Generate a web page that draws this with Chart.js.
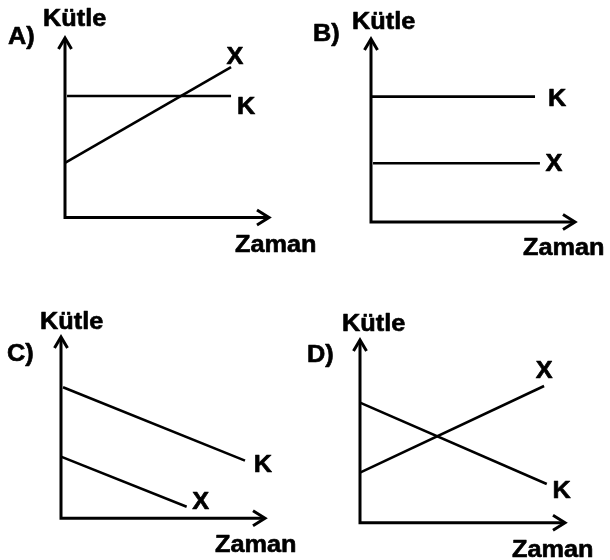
<!DOCTYPE html>
<html>
<head>
<meta charset="utf-8">
<script src="https://cdn.jsdelivr.net/npm/chart.js@4/dist/chart.umd.min.js"></script>
<style>
  html, body { margin: 0; padding: 0; background: #ffffff; }
  #wrap { position: relative; width: 610px; height: 560px; overflow: hidden; }
  #wrap canvas { position: absolute; left: 0; top: 0; }
</style>
</head>
<body>
<div id="wrap">
  <canvas id="cA" width="610" height="560"></canvas>
  <canvas id="cB" width="610" height="560"></canvas>
  <canvas id="cC" width="610" height="560"></canvas>
  <canvas id="cD" width="610" height="560"></canvas>
</div>
<script>
// ---------- DATA ----------
const panelLetters = ['A)', 'B)', 'C)', 'D)'];
const seriesNames = ['K', 'X'];
const yAxisTitle = 'Kütle';
const xAxisTitle = 'Zaman';

// Panel A
const timeKA = [0.1, 8.14];  const massKA = [6.77, 6.77];
const timeXA = [0, 8.14];    const massXA = [3.04, 8.38];
// Panel B
const timeKB = [0, 8.04];    const massKB = [6.85, 6.85];
const timeXB = [0.1, 8.28];  const massXB = [3.21, 3.21];
// Panel C
const timeKC = [0.1, 9.02];  const massKC = [7.23, 3.18];
const timeXC = [0, 6.16];    const massXC = [3.40, 0.64];
// Panel D
const timeKD = [0, 9.11];    const massKD = [6.57, 2.12];
const timeXD = [0, 8.98];    const massXD = [2.74, 7.48];

// ---------- LAYOUT / STYLE ----------
const FONT_SIZE = 23;
const FONT = 'bold ' + FONT_SIZE + 'px "Liberation Sans", Arial, sans-serif';
const HSCALE = 1.1;

const panelLayout = [
  { id: 'cA', pad: { left: 65, right: 341, top: 38, bottom: 342.5 },
    letter: [8, 35.5], ytitle: [43, 17.5], xtitle: [235, 243.5],
    labelOff: { K: [15, 10], X: [4, -11] } },
  { id: 'cB', pad: { left: 371, right: 35, top: 39, bottom: 338 },
    letter: [313, 33], ytitle: [352, 20.5], xtitle: [523, 246.5],
    labelOff: { K: [22, 1], X: [14, 0] } },
  { id: 'cC', pad: { left: 61, right: 345, top: 337, bottom: 41.7 },
    letter: [7, 353], ytitle: [40, 321], xtitle: [215, 543.5],
    labelOff: { K: [18, 3], X: [14, -6] } },
  { id: 'cD', pad: { left: 360, right: 45, top: 340, bottom: 37.3 },
    letter: [307, 353.5], ytitle: [342, 322.5], xtitle: [512, 548.5],
    labelOff: { K: [15, 6], X: [0, -16] } }
];

const panelData = [
  { K: [timeKA, massKA], X: [timeXA, massXA] },
  { K: [timeKB, massKB], X: [timeXB, massXB] },
  { K: [timeKC, massKC], X: [timeXC, massXC] },
  { K: [timeKD, massKD], X: [timeXD, massXD] }
];

function toPoints(xs, ys) { return xs.map((x, i) => ({ x: x, y: ys[i] })); }

function drawText(ctx, text, x, capCenterY, align) {
  ctx.save();
  ctx.font = FONT;
  ctx.fillStyle = '#000';
  ctx.strokeStyle = '#000';
  ctx.lineWidth = 0.6;
  ctx.lineJoin = 'round';
  ctx.textBaseline = 'alphabetic';
  ctx.textAlign = align;
  ctx.translate(x, capCenterY + 0.358 * FONT_SIZE);
  ctx.scale(HSCALE, 1);
  ctx.fillText(text, 0, 0);
  ctx.strokeText(text, 0, 0);
  ctx.restore();
}

const axesPlugin = {
  id: 'arrowAxes',
  afterDatasetsDraw(chart, args, opts) {
    const ctx = chart.ctx;
    const a = chart.chartArea;
    const L = opts.layout;
    ctx.save();
    ctx.strokeStyle = '#000';
    ctx.lineWidth = 3;
    ctx.lineJoin = 'miter';
    ctx.lineCap = 'butt';
    ctx.beginPath();
    ctx.moveTo(a.left, a.top + 1);
    ctx.lineTo(a.left, a.bottom);
    ctx.lineTo(a.right - 1, a.bottom);
    ctx.stroke();
    ctx.beginPath();
    ctx.moveTo(a.left - 6.5, a.top + 11);
    ctx.lineTo(a.left, a.top);
    ctx.lineTo(a.left + 6.5, a.top + 11);
    ctx.stroke();
    ctx.beginPath();
    ctx.moveTo(a.right - 12, a.bottom - 7.5);
    ctx.lineTo(a.right, a.bottom);
    ctx.lineTo(a.right - 12, a.bottom + 7.5);
    ctx.stroke();
    ctx.restore();

    drawText(ctx, opts.letter, L.letter[0], L.letter[1], 'left');
    drawText(ctx, yAxisTitle, L.ytitle[0], L.ytitle[1], 'left');
    drawText(ctx, xAxisTitle, L.xtitle[0], L.xtitle[1], 'left');

    chart.data.datasets.forEach((ds) => {
      const last = ds.data[ds.data.length - 1];
      const px = chart.scales.x.getPixelForValue(last.x);
      const py = chart.scales.y.getPixelForValue(last.y);
      const off = L.labelOff[ds.label];
      drawText(ctx, ds.label, px + off[0], py + off[1], 'center');
    });
  }
};

panelLayout.forEach((L, p) => {
  const d = panelData[p];
  new Chart(document.getElementById(L.id), {
    type: 'line',
    data: {
      datasets: seriesNames.map(name => ({
        label: name,
        data: toPoints(d[name][0], d[name][1]),
        borderColor: '#000',
        borderWidth: 2.6,
        pointRadius: 0,
        tension: 0,
        fill: false,
        clip: false
      }))
    },
    options: {
      responsive: false,
      animation: false,
      devicePixelRatio: 1,
      layout: { padding: L.pad },
      events: [],
      scales: {
        x: { type: 'linear', min: 0, max: 10, display: false },
        y: { type: 'linear', min: 0, max: 10, display: false }
      },
      plugins: {
        legend: { display: false },
        tooltip: { enabled: false },
        arrowAxes: { layout: L, letter: panelLetters[p] }
      }
    },
    plugins: [axesPlugin]
  });
});
</script>
</body>
</html>
